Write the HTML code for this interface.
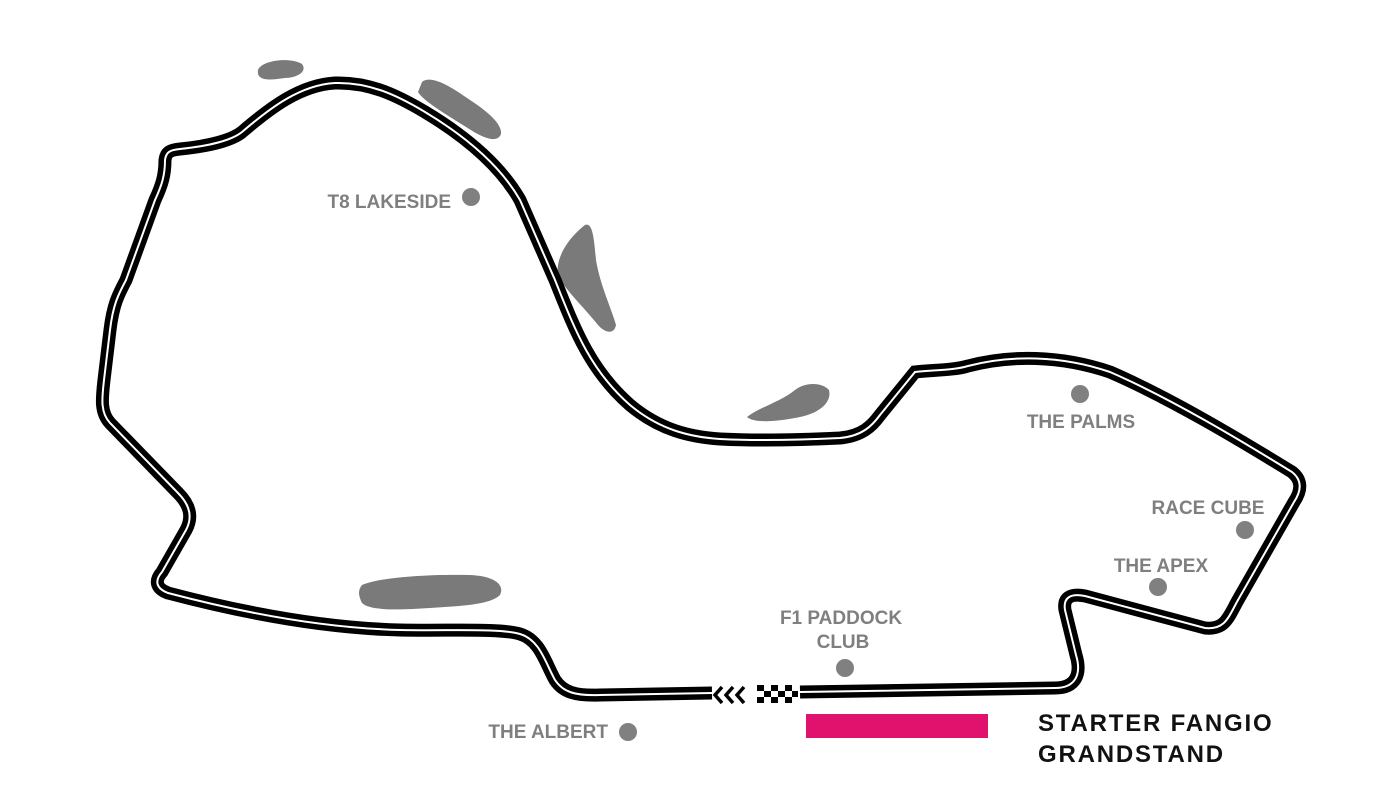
<!DOCTYPE html>
<html><head><meta charset="utf-8"><style>
html,body{margin:0;padding:0;background:#fff;width:1400px;height:801px;overflow:hidden}
svg{display:block}
.l{font-family:"Liberation Sans",sans-serif;font-weight:bold;fill:#7f7f7f;font-size:19px}
.k{font-family:"Liberation Sans",sans-serif;font-weight:bold;fill:#111;font-size:24px;letter-spacing:1.8px}
</style></head><body>
<svg width="1400" height="801" viewBox="0 0 1400 801" xmlns="http://www.w3.org/2000/svg">
<g fill="#7a7a7a">
<path d="M258 70 C262 60 290 57 302 64 C308 72 296 78 285 78 C272 80 256 82 258 70Z"/>
<path transform="translate(4,-4)" d="M418 86 C425 80 440 86 460 100 C480 113 498 126 497 138 C494 146 484 144 470 136 C445 120 420 106 414 96Z"/>
<path d="M585 225 C593 222 594 240 596 260 C600 285 612 310 616 325 C614 335 605 333 598 325 C582 305 565 290 558 275 C555 255 572 235 585 225Z"/>
<path d="M747 417 C760 407 780 402 795 390 C805 382 822 382 829 390 C832 402 820 413 800 417 C780 421 755 424 747 417Z"/>
<path d="M362 585 C380 577 430 574 470 575 C495 576 505 585 500 595 C490 605 460 606 430 608 C400 610 370 611 362 603 C358 595 358 590 362 585Z"/>
</g>
<g fill="none" stroke-linejoin="round" stroke-linecap="butt">
<path id="t" d="M712 693 L600 695 C575 696 563 692 555 680 C545 662 540 640 520 634 C500 628 450 631 400 630 C320 628 240 612 168 593 C155 588 155 580 162 572 L186 530 C193 517 190 505 178 493 L110 423 C100 412 102 398 104 380 L110 330 C113 305 118 295 126 280 L155 200 C162 185 165 175 165 160 C166 152 170 150 180 149 C210 146 232 140 242 132 C270 108 300 85 335 83 C368 82 395 94 425 112 C465 136 500 165 520 200 L555 280 C575 330 590 370 630 405 C660 430 690 437 720 439 C760 441 800 440 840 438 C862 436 872 426 880 415 L915 372 C935 370 955 370 968 366 C1010 355 1060 355 1110 372 C1170 398 1240 440 1292 472 C1302 480 1302 490 1294 502 L1238 600 C1228 618 1225 630 1205 628 L1085 596 C1070 593 1063 598 1065 610 L1076 655 C1082 675 1075 688 1055 688 L800 692"/>
</g>
<use href="#t" stroke="#000" stroke-width="13" fill="none"/>
<use href="#t" stroke="#fff" stroke-width="2" fill="none"/>
<g fill="none" stroke="#000" stroke-width="3.5">
<path d="M722 687 L715 695 L722 703"/>
<path d="M733 687 L726 695 L733 703"/>
<path d="M744 687 L737 695 L744 703"/>
</g>
<g fill="#000">
<rect x="757" y="685" width="7" height="6"/><rect x="771" y="685" width="7" height="6"/><rect x="785" y="685" width="7" height="6"/>
<rect x="764" y="691" width="7" height="6"/><rect x="778" y="691" width="7" height="6"/><rect x="792" y="691" width="6" height="6"/>
<rect x="757" y="697" width="7" height="6"/><rect x="771" y="697" width="7" height="6"/><rect x="785" y="697" width="7" height="6"/>
</g>
<rect x="806" y="714" width="182" height="24" fill="#e0126e"/>
<g fill="#808080">
<circle cx="471" cy="197" r="9"/><circle cx="1080" cy="394" r="9"/><circle cx="1245" cy="530" r="9"/>
<circle cx="1158" cy="587" r="9"/><circle cx="845" cy="668" r="9"/><circle cx="628" cy="732" r="9"/>
</g>
<text class="l" x="451" y="208" text-anchor="end">T8 LAKESIDE</text>
<text class="l" x="1081" y="428" text-anchor="middle">THE PALMS</text>
<text class="l" x="1208" y="514" text-anchor="middle">RACE CUBE</text>
<text class="l" x="1161" y="572" text-anchor="middle">THE APEX</text>
<text class="l" x="841" y="624" text-anchor="middle">F1 PADDOCK</text>
<text class="l" x="843" y="648" text-anchor="middle">CLUB</text>
<text class="l" x="608" y="738" text-anchor="end">THE ALBERT</text>
<text class="k" x="1038" y="731">STARTER FANGIO</text>
<text class="k" x="1038" y="762">GRANDSTAND</text>
</svg>
</body></html>
